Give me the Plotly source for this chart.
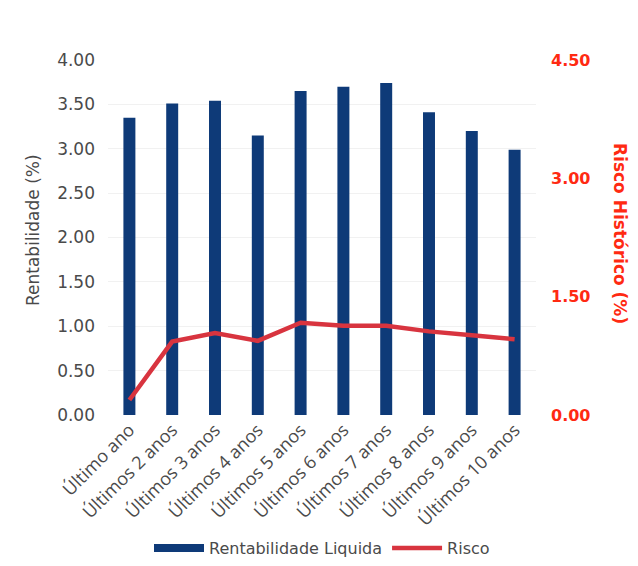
import plotly.graph_objects as go

categories = ["Último ano", "Últimos 2 anos", "Últimos 3 anos", "Últimos 4 anos",
              "Últimos 5 anos", "Últimos 6 anos", "Últimos 7 anos", "Últimos 8 anos",
              "Últimos 9 anos", "Últimos 10 anos"]
rentabilidade = [3.35, 3.51, 3.54, 3.15, 3.65, 3.70, 3.74, 3.41, 3.20, 2.99]
risco = [0.19, 0.93, 1.04, 0.94, 1.17, 1.13, 1.13, 1.06, 1.01, 0.96]
left_ticks = [0, 0.5, 1, 1.5, 2, 2.5, 3, 3.5, 4]
right_ticks = [0, 1.5, 3, 4.5]

BLUE = "#0e3a78"
RED = "#d8343f"
AXRED = "#ff2a12"
GREY = "#4a4a4a"

fig = go.Figure()
fig.add_trace(go.Bar(x=categories, y=rentabilidade, name="Rentabilidade Liquida",
                     marker=dict(color=BLUE, line=dict(width=0)), width=0.28,
                     showlegend=False))
# legend-only entry to give the bar series a wide flat swatch like the reference
fig.add_trace(go.Scatter(x=[None], y=[None], name="Rentabilidade Liquida", mode="lines",
                         line=dict(color=BLUE, width=8)))
fig.add_trace(go.Scatter(x=categories, y=risco, name="Risco", mode="lines",
                         line=dict(color=RED, width=4.5), yaxis="y2"))

fig.update_layout(
    width=638, height=566,
    margin=dict(l=108, r=102, t=60, b=151, autoexpand=False),
    paper_bgcolor="white", plot_bgcolor="white",
    showlegend=True,
    legend=dict(orientation="h", x=0.5, xanchor="center", y=-0.375, yanchor="middle",
                font=dict(family="DejaVu Sans", size=16, color=GREY),
                itemwidth=50, traceorder="normal"),
    xaxis=dict(type="category", tickangle=-45, showgrid=False, showline=False,
               automargin=False,
               tickfont=dict(family="Open Sans", size=18, color=GREY),
               ticks=""),
    yaxis=dict(range=[0, 4], tickvals=left_ticks, tickformat=".2f", automargin=False,
               showgrid=True, gridcolor="#f1f1f1", gridwidth=1, zeroline=False,
               showline=False, ticks="", ticklabelstandoff=12,
               tickfont=dict(family="DejaVu Sans", size=17, color=GREY)),
    yaxis2=dict(range=[0, 4.5], tickvals=right_ticks, tickformat=".2f", automargin=False,
                overlaying="y", side="right", showgrid=False, zeroline=False,
                showline=False, ticks="", ticklabelstandoff=14,
                tickfont=dict(family="DejaVu Sans", size=16, color=AXRED, weight="bold")),
    annotations=[
        dict(text="Rentabilidade (%)", xref="paper", yref="paper",
             x=(33 - 108) / 428, y=(415 - 230) / 355, showarrow=False,
             textangle=-90, xanchor="center", yanchor="middle",
             font=dict(family="DejaVu Sans", size=17, color=GREY)),
        dict(text="Risco Histórico (%)", xref="paper", yref="paper",
             x=(620 - 108) / 428, y=(415 - 233) / 355, showarrow=False,
             textangle=90, xanchor="center", yanchor="middle",
             font=dict(family="DejaVu Sans", size=17, color=AXRED, weight="bold")),
    ],
)

fig.write_html("out.html")
